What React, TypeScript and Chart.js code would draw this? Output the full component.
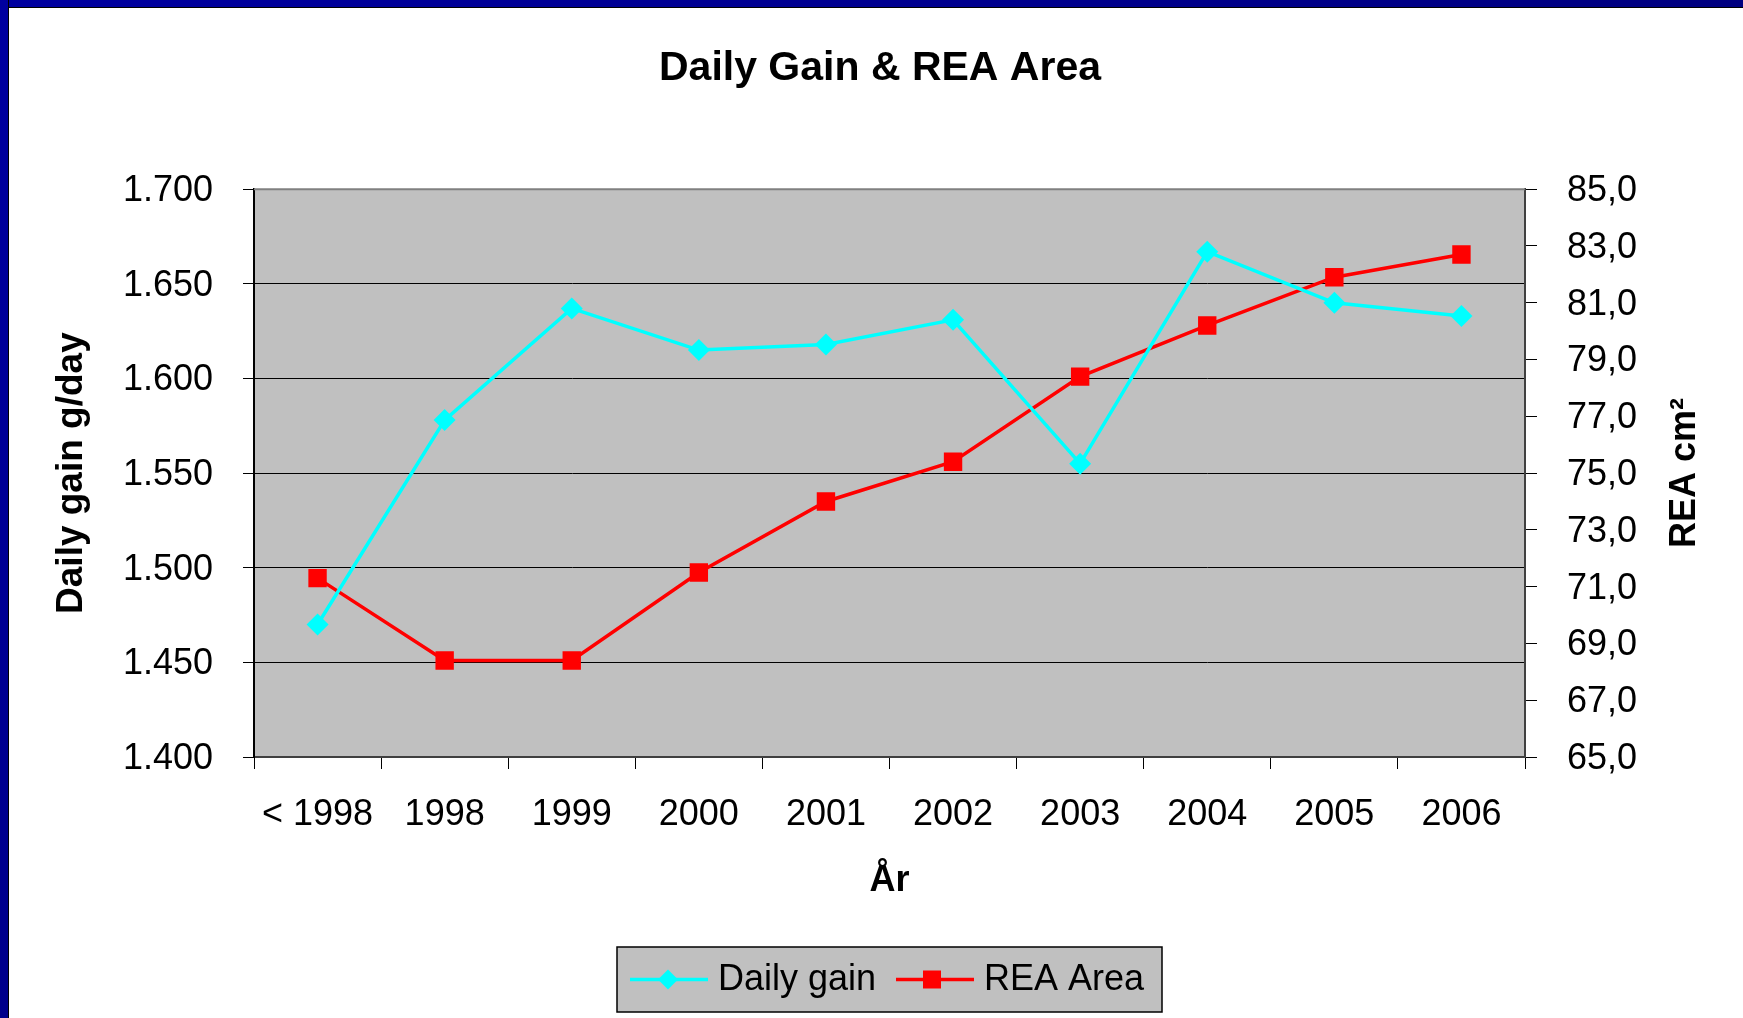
import React, { useEffect, useRef } from "react";
import { Chart, registerables } from "chart.js";

Chart.register(...registerables);

const categories = ["< 1998", "1998", "1999", "2000", "2001", "2002", "2003", "2004", "2005", "2006"];
const dailyGain = [1470, 1578, 1637, 1615, 1618, 1631, 1555, 1667, 1640, 1633];
const reaArea = [71.3, 68.4, 68.4, 71.5, 74.0, 75.4, 78.4, 80.2, 81.9, 82.7];

const chartTitle = "Daily Gain & REA Area";
const leftTitle = "Daily gain g/day";
const rightTitle = "REA cm²";
const xTitle = "År";
const seriesNames = ["Daily gain", "REA Area"];

const FONT = "'Liberation Sans', Arial, Helvetica, sans-serif";
const W = 1743;
const H = 1018;

function fmtThousands(v: number) {
  const n = Math.round(v);
  const th = Math.floor(n / 1000);
  const rest = String(n % 1000).padStart(3, "0");
  return `${th}.${rest}`;
}

const decorPlugin = {
  id: "decor",
  beforeDraw(chart: any) {
    const { ctx, chartArea: a } = chart;
    ctx.save();
    ctx.fillStyle = "#C0C0C0";
    ctx.fillRect(a.left, a.top, a.right - a.left, a.bottom - a.top);
    ctx.restore();
  },
  beforeDatasetsDraw(chart: any) {
    const { ctx, chartArea: a } = chart;
    ctx.save();
    ctx.strokeStyle = "#808080";
    ctx.lineWidth = 2;
    ctx.beginPath();
    ctx.moveTo(a.left, a.top);
    ctx.lineTo(a.right, a.top);
    ctx.stroke();
    ctx.restore();
  },
  afterDraw(chart: any) {
    const { ctx } = chart;
    // right axis title (reads bottom to top)
    ctx.save();
    ctx.translate(1685, 473);
    ctx.rotate(-Math.PI / 2);
    ctx.font = `bold 36px ${FONT}`;
    ctx.fillStyle = "#000";
    ctx.textAlign = "center";
    ctx.textBaseline = "middle";
    ctx.fillText(rightTitle, 0, 0);
    ctx.restore();

    // legend
    const bx = 617, by = 947, bw = 545, bh = 65;
    const cy = by + bh / 2;
    ctx.save();
    ctx.fillStyle = "#C0C0C0";
    ctx.fillRect(bx, by, bw, bh);
    ctx.strokeStyle = "#000";
    ctx.lineWidth = 1.5;
    ctx.strokeRect(bx, by, bw, bh);
    ctx.font = `36px ${FONT}`;
    ctx.textBaseline = "middle";
    ctx.textAlign = "left";

    // item 1
    ctx.strokeStyle = "#00FFFF";
    ctx.lineWidth = 3.5;
    ctx.beginPath();
    ctx.moveTo(630, cy);
    ctx.lineTo(708, cy);
    ctx.stroke();
    ctx.fillStyle = "#00FFFF";
    ctx.beginPath();
    ctx.moveTo(668 - 10, cy);
    ctx.lineTo(668, cy - 10);
    ctx.lineTo(668 + 10, cy);
    ctx.lineTo(668, cy + 10);
    ctx.closePath();
    ctx.fill();
    ctx.fillStyle = "#000";
    ctx.fillText(seriesNames[0], 718, cy + 1);

    // item 2
    ctx.strokeStyle = "#FF0000";
    ctx.beginPath();
    ctx.moveTo(896, cy);
    ctx.lineTo(974, cy);
    ctx.stroke();
    ctx.fillStyle = "#FF0000";
    ctx.fillRect(932 - 9, cy - 9, 18, 18);
    ctx.fillStyle = "#000";
    ctx.fillText(seriesNames[1], 984, cy + 1);
    ctx.restore();
  },
};

export default function App() {
  const canvasRef = useRef<HTMLCanvasElement | null>(null);

  useEffect(() => {
    document.body.style.margin = "0";
    const canvas = canvasRef.current;
    if (!canvas) return;
    Chart.defaults.font.family = FONT;
    Chart.defaults.color = "#000";

    const chart = new Chart(canvas, {
      type: "line",
      data: {
        labels: categories,
        datasets: [
          {
            label: seriesNames[0],
            data: dailyGain,
            yAxisID: "y",
            borderColor: "#00FFFF",
            backgroundColor: "#00FFFF",
            borderWidth: 3.5,
            pointStyle: "rectRot",
            pointRadius: 11,
            pointBorderWidth: 0,
            pointBackgroundColor: "#00FFFF",
            tension: 0,
          },
          {
            label: seriesNames[1],
            data: reaArea,
            yAxisID: "y1",
            borderColor: "#FF0000",
            backgroundColor: "#FF0000",
            borderWidth: 3.5,
            pointStyle: "rect",
            pointRadius: 13,
            pointBorderWidth: 0,
            pointBackgroundColor: "#FF0000",
            tension: 0,
          },
        ],
      },
      options: {
        responsive: false,
        animation: false,
        devicePixelRatio: 1,
        layout: { padding: { top: 8, left: 17, right: 0, bottom: 0 } },
        plugins: {
          legend: { display: false },
          tooltip: { enabled: false },
          title: {
            display: true,
            text: chartTitle,
            color: "#000",
            font: { size: 41, weight: "bold", family: FONT },
            padding: { top: 36, bottom: 96 },
          },
        },
        scales: {
          x: {
            type: "category",
            offset: true,
            grid: {
              offset: true,
              drawOnChartArea: false,
              drawTicks: true,
              tickLength: 12,
              tickColor: "#000",
              tickWidth: 1,
            },
            border: { display: true, color: "#404040", width: 2 },
            ticks: {
              color: "#000",
              font: { size: 36, family: FONT },
              padding: 24,
              maxRotation: 0,
              autoSkip: false,
            },
            title: {
              display: true,
              text: xTitle,
              color: "#000",
              font: { size: 36, weight: "bold", family: FONT },
              padding: { top: 0, bottom: 115 },
            },
            afterFit(scale: any) {
              scale.height = H - 757;
            },
          },
          y: {
            type: "linear",
            position: "left",
            min: 1400,
            max: 1700,
            grid: {
              color: (ctx: any) => (ctx.tick && ctx.tick.value === 1700 ? "rgba(0,0,0,0)" : "#000"),
              lineWidth: 1,
              drawTicks: true,
              tickLength: 11,
              tickColor: "#000",
              tickWidth: 1,
            },
            border: { display: true, color: "#000", width: 2 },
            ticks: {
              stepSize: 50,
              color: "#000",
              font: { size: 36, family: FONT },
              padding: 30,
              labelOffset: 2,
              callback: (v: any) => fmtThousands(Number(v)),
            },
            title: {
              display: true,
              text: leftTitle,
              color: "#000",
              font: { size: 37, weight: "bold", family: FONT },
              padding: { top: 33, bottom: 0 },
            },
            afterFit(scale: any) {
              scale.width = 254 - 17;
            },
          },
          y1: {
            type: "linear",
            position: "right",
            min: 65,
            max: 85,
            grid: {
              drawOnChartArea: false,
              drawTicks: true,
              tickLength: 12,
              tickColor: "#000",
              tickWidth: 1,
            },
            border: { display: true, color: "#404040", width: 2 },
            ticks: {
              stepSize: 2,
              color: "#000",
              font: { size: 36, family: FONT },
              padding: 30,
              labelOffset: 2,
              callback: (v: any) => Number(v).toFixed(1).replace(".", ","),
            },
            afterFit(scale: any) {
              scale.width = W - 1525;
            },
          },
        },
      },
      plugins: [decorPlugin],
    });

    return () => {
      chart.destroy();
    };
  }, []);

  return (
    <div style={{ position: "relative", width: W, height: H, overflow: "hidden", background: "#fff" }}>
      <canvas ref={canvasRef} width={W} height={H} style={{ position: "absolute", left: 0, top: 0, width: W, height: H }} />
      <div
        style={{
          position: "absolute",
          left: 0,
          top: 0,
          width: W,
          height: 7,
          background: "linear-gradient(to right, #0000A0, #000080)",
          borderBottom: "1px solid #000",
        }}
      />
      <div
        style={{
          position: "absolute",
          left: 0,
          top: 0,
          width: 8,
          height: H,
          background: "linear-gradient(to bottom, #0000A0, #00008B)",
          borderRight: "1px solid #000",
        }}
      />
    </div>
  );
}
